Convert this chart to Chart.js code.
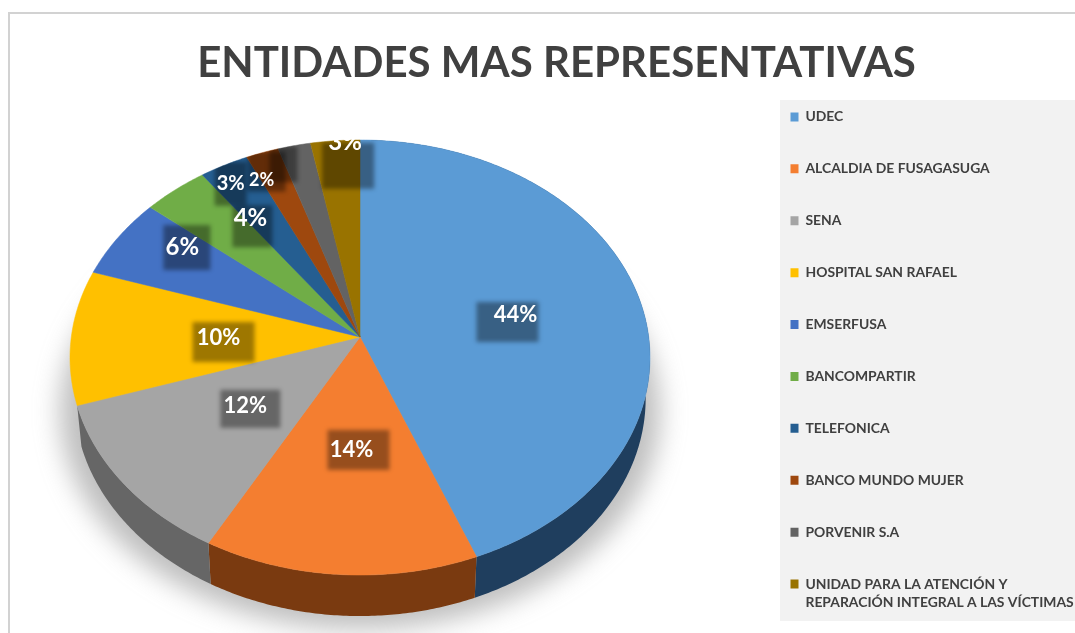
<!DOCTYPE html>
<html>
<head>
<meta charset="utf-8">
<style>html,body{margin:0;padding:0;background:#fff}canvas{display:block}</style>
<script src="https://cdn.jsdelivr.net/npm/chart.js@4"></script>
</head>
<body>
<canvas id="c" width="1075" height="633"></canvas>
<script>
const titleText = 'ENTIDADES MAS REPRESENTATIVAS';
const categories = ['UDEC','ALCALDIA DE FUSAGASUGA','SENA','HOSPITAL SAN RAFAEL','EMSERFUSA','BANCOMPARTIR','TELEFONICA','BANCO MUNDO MUJER','PORVENIR S.A',['UNIDAD PARA LA ATENCIÓN Y','REPARACIÓN INTEGRAL A LAS VÍCTIMAS']];
const percentages = [44,14,12,10,6,4,3,2,2,3];
const topColors = ['#5B9BD5','#F47E30','#A5A5A5','#FFC000','#4472C4','#70AD47','#255E91','#9E480E','#636363','#997300'];
const wallColors = ['#1F3E5E','#7A3A10','#666666',null,null,null,null,null,null,null];
const labelVisible = [true,true,true,true,true,true,true,true,false,true];
const labelFraction = [0.55,0.5,0.5,0.49,0.7,0.56,0.885,0.93,0.85,1];
const labelNudgeX = [1,1,0,0,-6,-3,-8,-7,-20,10];
const labelNudgeY = [0,0,-2,1,-19,-34,0,16,-8,1];
const labelFontSize = [22,22,22,22,24,24,20,18,20,24];
const plateOffsetX = [-8,7,5,5,4.5,2,0,5,0,3];
const plateOffsetY = [7,0,3,4,0,8,0,-9,0,24];
const plateWidth = [62,62,60,62,47,40,32,38,28,52];
const plateHeight = [40,40,38,40,45,42,44,40,36,46];

/* Tilted view: projective mapping of the library's unit circle */
const VIEW = {x:360, y:337, rx:288.7, ry:215.6, persp:-0.0943, depth:41};
function project(X, Y, drop){
  const w = 1 + VIEW.persp*Y;
  const d = drop||0;
  const k = 1 - 0.015*(d/VIEW.depth);
  return {x: VIEW.x + k*VIEW.rx*X/w, y: VIEW.y + VIEW.ry*Y/w + d};
}
function outerPoints(a0, a1, drop){
  const n = Math.max(2, Math.ceil((a1-a0)/0.01));
  const pts = [];
  for(let i=0;i<=n;i++){
    const t = a0 + (a1-a0)*i/n;
    pts.push(project(Math.cos(t), Math.sin(t), drop));
  }
  return pts;
}
function trace(ctx, pts){ pts.forEach((p,i)=> i? ctx.lineTo(p.x,p.y):ctx.moveTo(p.x,p.y)); }
function trace2(ctx, pts){ pts.forEach(p=>ctx.lineTo(p.x,p.y)); }
function labelPos(arc,i){
  const t = (arc.startAngle+arc.endAngle)/2, f = labelFraction[i];
  const p = project(f*Math.cos(t), f*Math.sin(t), 0);
  return {x:p.x+labelNudgeX[i], y:p.y+labelNudgeY[i]};
}

const frame = {
  id:'frame',
  afterLayout(chart){
    const lg = chart.legend;
    lg.left = 752.5; lg.right = 1075;
    lg.top = 72; lg.bottom = 720;
  },
  beforeDraw(chart){
    const c = chart.ctx;
    c.save();
    c.fillStyle='#fff'; c.fillRect(0,0,chart.width,chart.height);
    c.fillStyle='#D2D2D2';
    c.fillRect(8,12,chart.width-8,2);
    c.fillRect(8,12,2,chart.height-12);
    c.fillStyle='#F2F2F2';
    c.fillRect(780,100,295,521);
    c.restore();
  }
};
const pie3d = {
  id:'pie3d',
  beforeDatasetsDraw(chart){
    const c = chart.ctx;
    const arcs = chart.getDatasetMeta(0).data;
    c.save();
    /* soft ground shadow */
    c.save();
    c.filter='blur(13px)';
    c.fillStyle='rgba(125,125,125,0.5)';
    c.beginPath();
    trace(c, outerPoints(0, Math.PI*2, VIEW.depth+13).map(p=>({x:VIEW.x+(p.x-VIEW.x)*1.055,y:p.y})));
    c.closePath(); c.fill();
    c.restore();
    /* side wall */
    arcs.forEach((arc,i)=>{
      if(!wallColors[i]) return;
      const top = outerPoints(arc.startAngle, arc.endAngle, 0);
      const bot = outerPoints(arc.startAngle, arc.endAngle, VIEW.depth).reverse();
      c.fillStyle = wallColors[i];
      c.beginPath(); trace(c, top.concat(bot)); c.closePath(); c.fill();
    });
    /* top surface */
    arcs.forEach((arc,i)=>{
      c.fillStyle = topColors[i];
      c.strokeStyle = topColors[i];
      c.lineWidth = 0.5;
      c.beginPath();
      c.moveTo(VIEW.x, VIEW.y);
      trace2(c, outerPoints(arc.startAngle, arc.endAngle, 0));
      c.closePath(); c.fill(); c.stroke();
    });
    /* data labels: dark blurred plate and white text */
    c.save();
    c.beginPath(); trace(c, outerPoints(0, Math.PI*2, 0)); c.closePath(); c.clip();
    arcs.forEach((arc,i)=>{
      const p = labelPos(arc,i);
      c.save();
      c.filter='blur(2px)';
      c.fillStyle='rgba(0,0,0,0.38)';
      c.fillRect(p.x+plateOffsetX[i]-plateWidth[i]/2, p.y+plateOffsetY[i]-plateHeight[i]/2, plateWidth[i], plateHeight[i]);
      c.restore();
    });
    c.restore();
    c.fillStyle='#fff';
    c.textAlign='center'; c.textBaseline='middle';
    arcs.forEach((arc,i)=>{
      if(!labelVisible[i]) return;
      const p = labelPos(arc,i);
      c.font='bold '+labelFontSize[i]+'px Lato';
      c.fillText(percentages[i]+'%', p.x, p.y);
    });
    c.restore();
    return false;
  }
};

new Chart(document.getElementById('c'),{
  type:'pie',
  data:{ labels:categories, datasets:[{ data:percentages, backgroundColor:topColors, borderWidth:0 }] },
  options:{
    responsive:false, animation:false,
    layout:{ padding:{left:38} },
    plugins:{
      title:{ display:true, text:titleText, color:'#404040',
        font:{family:'Lato',size:42,weight:'bold',lineHeight:1.2}, padding:{top:38,bottom:0} },
      legend:{ position:'right', align:'start',
        labels:{ boxWidth:8, boxHeight:9, padding:38, color:'#404040',
          font:{family:'Lato',size:13.9,weight:'bold',lineHeight:1.3} } },
      tooltip:{enabled:false}
    }
  },
  plugins:[frame,pie3d]
});
</script>
</body>
</html>
